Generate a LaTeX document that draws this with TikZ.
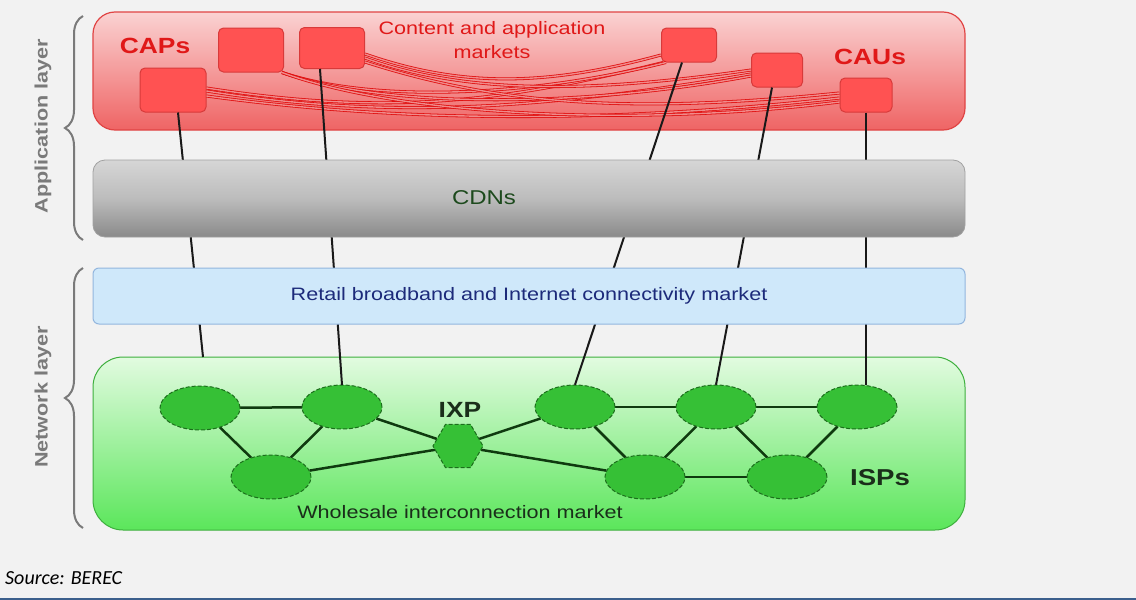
\documentclass[tikz,border=0pt]{standalone}
\usepackage{fontspec}
\setmainfont{Liberation Sans}[FakeStretch=1.2]
\newfontfamily\srcfont{Carlito}
\usetikzlibrary{shapes.geometric,decorations.pathreplacing}

\definecolor{pagebg}{HTML}{F2F2F2}
\definecolor{apptop}{HTML}{FAD2D2}
\definecolor{appbot}{HTML}{EF6464}
\definecolor{appborder}{HTML}{E04444}
\definecolor{capfill}{HTML}{FF5252}
\definecolor{capborder}{HTML}{D83A3A}
\definecolor{capred}{HTML}{E01818}
\definecolor{linkred}{HTML}{E01010}
\definecolor{linkin}{HTML}{F08A8A}
\definecolor{cdntop}{HTML}{D6D6D6}
\definecolor{cdnmid}{HTML}{BCBCBC}
\definecolor{cdnbot}{HTML}{8A8A8A}
\definecolor{cdntext}{HTML}{1D4A1D}
\definecolor{retailfill}{HTML}{CFE8FA}
\definecolor{retailborder}{HTML}{93B6DE}
\definecolor{retailtext}{HTML}{1C2A7A}
\definecolor{nettop}{HTML}{E2FBE0}
\definecolor{netbot}{HTML}{5BE65B}
\definecolor{netborder}{HTML}{3DAF3D}
\definecolor{ispfill}{HTML}{36C036}
\definecolor{ispborder}{HTML}{1C6E1C}
\definecolor{edgegreen}{HTML}{0F3A0F}
\definecolor{darktext}{HTML}{1A2E1A}
\definecolor{layergray}{HTML}{7A7A7A}
\definecolor{rulecol}{HTML}{3C5F8C}

\begin{document}
\begin{tikzpicture}[x=1pt,y=-1pt,
  capbox/.style={draw=capborder, fill=capfill, rounded corners=5pt, line width=1pt, inner sep=0pt},
  redlink/.style={draw=linkred, line width=0.8pt, double=linkin, double distance=1.4pt},
  wire/.style={draw=black!90, line width=2pt},
  ispshape/.style={ellipse, minimum width=80pt, minimum height=44pt, inner sep=0pt},
  isp/.style={ispshape, draw=ispborder, dash pattern=on 4pt off 2pt, line width=1pt, fill=ispfill},
  ixpshape/.style={regular polygon, regular polygon sides=6, minimum size=50pt, inner sep=0pt},
  ixpnode/.style={ixpshape, draw=ispborder, dash pattern=on 4pt off 2pt, line width=1pt, fill=ispfill},
  ispedge/.style={draw=edgegreen, line width=2.5pt},
  layerbrace/.style={draw=layergray, line width=2pt, decorate, decoration={brace, amplitude=18pt}},
  layerlabel/.style={text=layergray, font=\bfseries\fontsize{18}{22}\selectfont, rotate=90},
  bandtext/.style={font=\fontsize{18}{22}\selectfont}
]
% page
\fill[pagebg] (0,0) rectangle (1136,600);
\useasboundingbox (0,0) rectangle (1136,600);

% application layer: content and application markets
\path[draw=appborder, line width=1.2pt, rounded corners=22pt, top color=apptop, bottom color=appbot]
  (93,12) rectangle (965,130);

\node[capbox, minimum width=66pt, minimum height=44pt] (A) at (173,90) {};
\node[capbox, minimum width=65pt, minimum height=44pt] (B) at (251,50) {};
\node[capbox, minimum width=65pt, minimum height=41pt] (C) at (332,48) {};
\node[capbox, minimum width=55pt, minimum height=34pt] (D) at (689,45) {};
\node[capbox, minimum width=51pt, minimum height=34pt] (E) at (777,70) {};
\node[capbox, minimum width=52pt, minimum height=34pt] (F) at (866,95) {};

% links between content providers and users
\draw[redlink] ([yshift=2pt]A.east) .. controls +(180,28) and +(-160,40) .. ([xshift=2pt]D.south west);
\draw[redlink] ([yshift=-1pt]A.east) .. controls +(200,32) and +(-180,30) .. ([yshift=-4pt]E.west);
\draw[redlink] ([yshift=-6pt]A.east) .. controls +(220,30) and +(-200,22) .. ([yshift=-3pt]F.west);
\draw[redlink] ([xshift=-2pt]B.south east) .. controls +(90,30) and +(-140,35) .. ([xshift=5pt]D.south west);
\draw[redlink] ([xshift=-2pt]B.south east) .. controls +(110,38) and +(-160,30) .. ([yshift=-6pt]E.west);
\draw[redlink] ([xshift=-2pt]B.south east) .. controls +(120,44) and +(-200,25) .. ([yshift=-7pt]F.west);
\draw[redlink] ([yshift=-6pt]C.east) .. controls +(100,35) and +(-110,30) .. ([yshift=-10pt]D.west);
\draw[redlink] ([yshift=-10pt]C.east) .. controls +(110,40) and +(-140,20) .. ([yshift=0pt]E.west);
\draw[redlink] ([yshift=-14pt]C.east) .. controls +(140,45) and +(-200,20) .. ([yshift=2pt]F.west);

\node[text=capred, font=\bfseries\fontsize{22}{26}\selectfont] (caps) at (155,46) {CAPs};
\node[text=capred, font=\bfseries\fontsize{22}{26}\selectfont] (caus) at (870,57) {CAUs};
\node[text=capred, align=center, font=\fontsize{18}{24}\selectfont] (cam) at (492,40) {Content and application\\markets};

% network layer: wholesale interconnection market
\path[draw=netborder, line width=1pt, rounded corners=30pt, top color=nettop, bottom color=netbot]
  (93,357) rectangle (965,530);

% ISP positions (outlines only, used for the links)
\node[ispshape] (n1) at (200,408) {};
\node[ispshape] (n2) at (342,407) {};
\node[ispshape] (n3) at (271,477) {};
\node[ixpshape] (ixp) at (458,446) {};
\node[ispshape] (n4) at (575,407) {};
\node[ispshape] (n5) at (716,407) {};
\node[ispshape] (n6) at (857,407) {};
\node[ispshape] (n7) at (645,477) {};
\node[ispshape] (n8) at (787,477) {};

\draw[ispedge] (n1) -- (n2);
\draw[ispedge] (n1) -- (n3);
\draw[ispedge] (n2) -- (n3);
\draw[ispedge] (n2) -- (ixp);
\draw[ispedge] (n3) -- (ixp);
\draw[ispedge] (ixp) -- (n4);
\draw[ispedge] (ixp) -- (n7);
\draw[ispedge] (n4) -- (n5);
\draw[ispedge] (n4) -- (n7);
\draw[ispedge] (n5) -- (n7);
\draw[ispedge] (n5) -- (n6);
\draw[ispedge] (n5) -- (n8);
\draw[ispedge] (n6) -- (n8);
\draw[ispedge] (n7) -- (n8);

% filled ISP and IXP shapes over the link ends
\foreach \n in {n1,n2,n3,n4,n5,n6,n7,n8}
  \node[isp] (\n fill) at (\n) {};
\node[ixpnode] (ixpfill) at (ixp) {};

\node[text=darktext, font=\bfseries\fontsize{22}{26}\selectfont] (ixplabel) at (460,410) {IXP};
\node[text=darktext, font=\bfseries\fontsize{23}{26}\selectfont] (isps) at (880,478) {ISPs};
\node[text=darktext, bandtext] (wholesale) at (460,512) {Wholesale interconnection market};

% access lines from providers and users down to the ISPs
\coordinate (gA) at (203,357);
\draw[wire] ([xshift=5pt]A.south) -- (gA);
\draw[wire] ([xshift=-12pt]C.south) -- (n2.north);
\draw[wire] ([xshift=-7pt]D.south) -- (n4.north);
\draw[wire] ([xshift=-5pt]E.south) -- (n5.north);
\draw[wire] (F.south) -- ([xshift=9pt]n6.north);

% CDN band
\path[draw=cdnbot!80, line width=0.8pt, rounded corners=12pt, top color=cdntop, bottom color=cdnbot, middle color=cdnmid]
  (93,160) rectangle (965,237);
\node[text=cdntext, font=\fontsize{20}{24}\selectfont] (cdn) at (484,198) {CDNs};

% retail band
\path[draw=retailborder, line width=1pt, rounded corners=6pt, fill=retailfill]
  (93,268) rectangle (965,324);
\node[text=retailtext, bandtext] (retail) at (529,296) {Retail broadband and Internet connectivity market};

% layer braces
\coordinate (appbot) at (83,240);
\coordinate (apptopc) at (83,16);
\coordinate (netbotc) at (83,528);
\coordinate (nettopc) at (83,268);
\draw[layerbrace] (appbot) -- (apptopc);
\draw[layerbrace] (netbotc) -- (nettopc);
\node[layerlabel] (applabel) at (43,126) {Application layer};
\node[layerlabel] (netlabel) at (43,397) {Network layer};

% source note and rule
\node[anchor=west, inner sep=0pt, font=\srcfont\itshape\fontsize{20}{24}\selectfont] (src) at (5,578) {Source: BEREC};
\coordinate (ruleL) at (0,598.8);
\coordinate (ruleR) at (1136,598.8);
\draw[rulecol, line width=2.4pt] (ruleL) -- (ruleR);
\end{tikzpicture}
\end{document}
